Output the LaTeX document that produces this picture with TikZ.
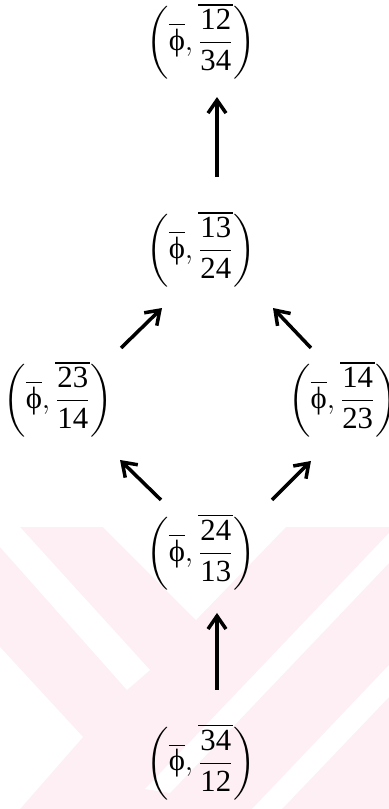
\documentclass[tikz,border=0pt]{standalone}
\usepackage{amsmath}
\usepackage{fontspec}
\setmainfont{Liberation Serif}
\usetikzlibrary{arrows.meta, positioning}

\definecolor{markpink}{RGB}{253,239,243}
\newcommand{\pairlabel}[2]{$\left(\overline{\text{ϕ}},\overline{\dfrac{\text{#1}}{\text{#2}}}\right)$}

\begin{document}
\begin{tikzpicture}[x=0.02cm, y=-0.02cm, on grid,
    term/.style={inner sep=0pt, font=\fontsize{17.5}{20}\selectfont},
    arr/.style={line width=2pt, -{Straight Barb[length=0.26cm, width=0.36cm]}}
]
\useasboundingbox (0,0) rectangle (389,809);

\fill[markpink] (0,527) rectangle (389,809);
\fill[white] (103,527) -- (196,620) -- (286,527) -- cycle;
\fill[white] (0,527) -- (20,527) -- (150,670) -- (127,690) -- (0,547) -- cycle;
\fill[white] (0,647) -- (83,737) -- (20,809) -- (0,809) -- cycle;
\fill[white] (389,533) -- (389,563) -- (170,793) -- (145,789) -- cycle;
\fill[white] (389,665) -- (389,697) -- (282,809) -- (252,809) -- cycle;

\node[term] (s1324) at (201,249) {\pairlabel{13}{24}};
\node[term, above=4.16cm of s1324] (s1234) {\pairlabel{12}{34}};
\node[term, below left=3.0cm and 2.86cm of s1324] (s2314) {\pairlabel{23}{14}};
\node[term, below right=3.0cm and 2.84cm of s1324] (s1423) {\pairlabel{14}{23}};
\node[term, below=6.06cm of s1324] (s2413) {\pairlabel{24}{13}};
\node[term, below=4.2cm of s2413] (s3412) {\pairlabel{34}{12}};

\draw[arr] ([shift={(16,-72)}]s3412.center) -- ([shift={(16,61)}]s2413.center);
\draw[arr] ([shift={(-40,-52)}]s2413.center) -- ([shift={(62,61)}]s2314.center);
\draw[arr] ([shift={(71,-52)}]s2413.center) -- ([shift={(-32,62)}]s1423.center);
\draw[arr] ([shift={(63,-51)}]s2314.center) -- ([shift={(-39,59)}]s1324.center);
\draw[arr] ([shift={(-32,-51)}]s1423.center) -- ([shift={(72,59)}]s1324.center);
\draw[arr] ([shift={(16,-72)}]s1324.center) -- ([shift={(16,56)}]s1234.center);

\end{tikzpicture}
\end{document}
